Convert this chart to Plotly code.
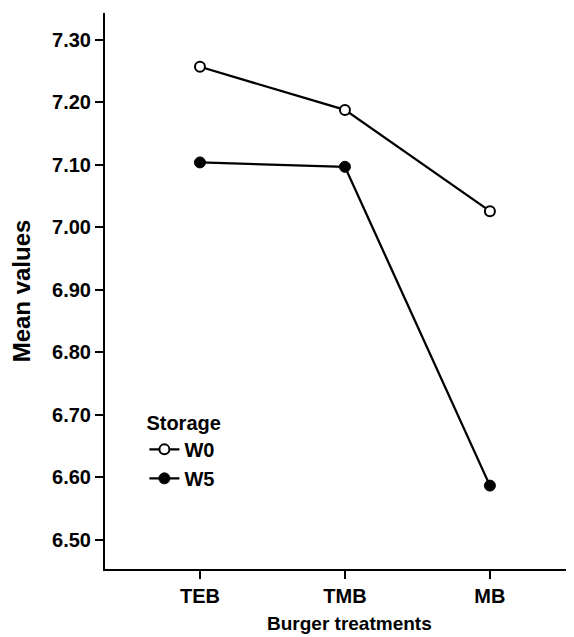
import plotly.graph_objects as go

categories = ["TEB", "TMB", "MB"]
w0_values = [7.257, 7.188, 7.026]
w5_values = [7.104, 7.097, 6.587]
y_ticks = [6.50, 6.60, 6.70, 6.80, 6.90, 7.00, 7.10, 7.20, 7.30]
y_tick_labels = [f"{v:.2f}" for v in y_ticks]

FONT = "Liberation Sans, Arial, sans-serif"

fig = go.Figure()
fig.add_trace(go.Scatter(
    x=[0, 1, 2], y=w0_values, name="W0", mode="lines+markers",
    line=dict(color="black", width=2.3),
    marker=dict(symbol="circle", size=10, color="white", line=dict(color="black", width=2)),
))
fig.add_trace(go.Scatter(
    x=[0, 1, 2], y=w5_values, name="W5", mode="lines+markers",
    line=dict(color="black", width=2.3),
    marker=dict(symbol="circle", size=11, color="black", line=dict(color="black", width=1)),
))

fig.update_layout(
    width=566, height=629,
    margin=dict(l=97, r=0, t=5, b=68),
    paper_bgcolor="white", plot_bgcolor="white",
    font=dict(family=FONT, size=20, color="black", weight="bold"),
    showlegend=True,
    legend=dict(
        title=dict(text="Storage", font=dict(size=20, weight="bold")),
        x=0.084, y=0.297, xanchor="left", yanchor="top",
        bgcolor="rgba(0,0,0,0)", font=dict(size=20, weight="bold"),
        tracegroupgap=0, itemwidth=30,
    ),
    xaxis=dict(
        range=[-0.655, 2.58], tickmode="array", tickvals=[0, 1, 2], ticktext=categories,
        showgrid=False, zeroline=False, showline=True, linecolor="black", linewidth=2,
        ticks="outside", ticklen=8, tickwidth=2, tickcolor="black", automargin=False,
    ),
    yaxis=dict(
        range=[6.4536, 7.343], tickmode="array", tickvals=y_ticks, ticktext=y_tick_labels,
        showgrid=False, zeroline=False, showline=True, linecolor="black", linewidth=2,
        ticks="outside", ticklen=8, tickwidth=2, tickcolor="black", automargin=False,
        title=dict(text="Mean values", standoff=16),
    ),
    annotations=[dict(
        text="Burger treatments", xref="paper", yref="paper", x=0.522, y=0,
        xanchor="center", yanchor="top", yshift=-42, showarrow=False,
        font=dict(size=19, weight="bold", color="black"),
    )],
)

fig.write_html("out.html")
